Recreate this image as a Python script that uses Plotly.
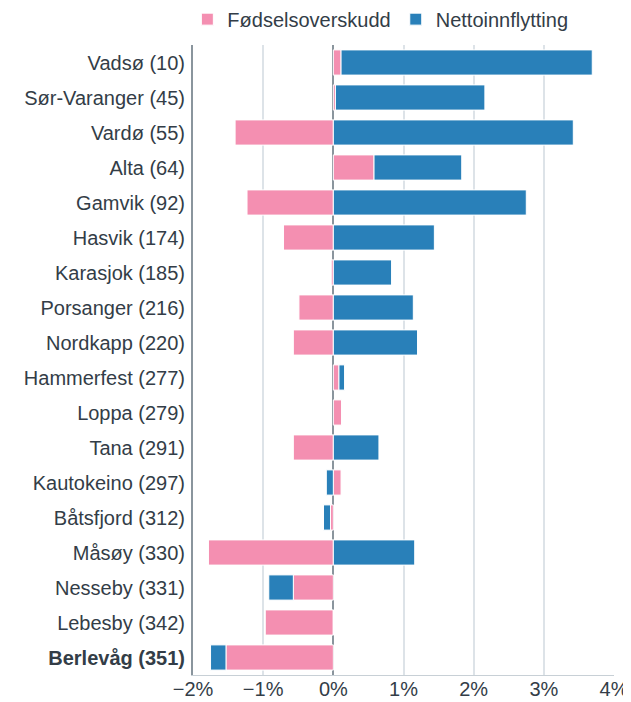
import plotly.graph_objects as go

kommuner = ["Vadsø (10)", "Sør-Varanger (45)", "Vardø (55)", "Alta (64)", "Gamvik (92)",
            "Hasvik (174)", "Karasjok (185)", "Porsanger (216)", "Nordkapp (220)",
            "Hammerfest (277)", "Loppa (279)", "Tana (291)", "Kautokeino (297)",
            "Båtsfjord (312)", "Måsøy (330)", "Nesseby (331)", "Lebesby (342)", "Berlevåg (351)"]
fodselsoverskudd = [0.11, 0.03, -1.40, 0.58, -1.23, -0.71, -0.03, -0.49, -0.57,
                    0.08, 0.12, -0.57, 0.11, -0.04, -1.78, -0.57, -0.97, -1.53]
nettoinnflytting = [3.58, 2.13, 3.42, 1.25, 2.75, 1.44, 0.83, 1.14, 1.20,
                    0.08, 0.0, 0.65, -0.10, -0.10, 1.16, -0.35, 0.0, -0.22]
x_ticks = [-2, -1, 0, 1, 2, 3, 4]
x_tick_labels = ["−2%", "−1%", "0%", "1%", "2%", "3%", "4%"]
tick_labels = kommuner[:-1] + ["<b>" + kommuner[-1] + "</b>"]

TXT = "#333d47"

fig = go.Figure()
fig.add_bar(y=kommuner, x=fodselsoverskudd, orientation="h", name="Fødselsoverskudd",
            marker=dict(color="#F48FB1", line=dict(color="#ffffff", width=1)), width=0.72)
fig.add_bar(y=kommuner, x=nettoinnflytting, orientation="h", name="Nettoinnflytting",
            marker=dict(color="#2980B9", line=dict(color="#ffffff", width=1)), width=0.72)

fig.update_layout(
    barmode="relative",
    width=623, height=694,
    margin=dict(l=185, r=17, t=37, b=27, autoexpand=False),
    paper_bgcolor="white", plot_bgcolor="white",
    font=dict(family="Liberation Sans, Arial, sans-serif", size=20, color=TXT),
    legend=dict(orientation="h", x=0.445, xanchor="center", y=1.072, yanchor="top",
                font=dict(size=20, color=TXT), traceorder="normal",
                itemwidth=30, tracegroupgap=0),
    showlegend=True,
)
fig.update_xaxes(range=[-2, 4], tickvals=x_ticks, ticktext=x_tick_labels,
                 showgrid=True, gridcolor="#dde3e8", gridwidth=1.5,
                 zeroline=True, zerolinecolor="#8a959d", zerolinewidth=1.5,
                 showline=True, linecolor="#c8d0d6", linewidth=1,
                 automargin=False, ticklabelstandoff=-4,
                 tickfont=dict(size=20, color=TXT))
fig.update_yaxes(autorange="reversed", tickvals=kommuner, ticktext=tick_labels,
                 showline=True, linecolor="#8a959d", linewidth=2,
                 showgrid=False, automargin=False, ticks="", ticklabelstandoff=2,
                 tickfont=dict(size=20, color=TXT))

fig.write_html("out.html")
